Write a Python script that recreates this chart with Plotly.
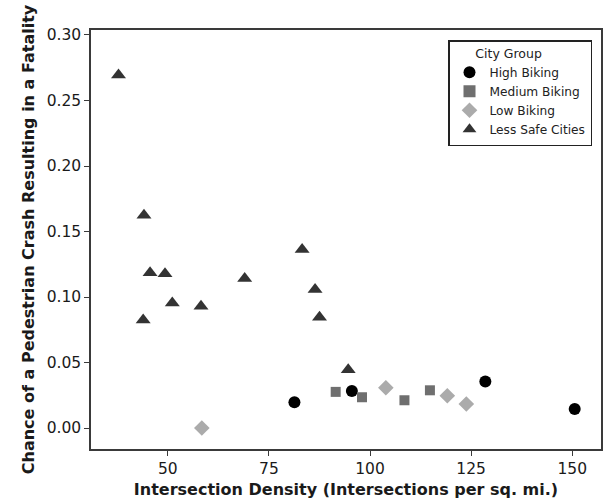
import plotly.graph_objects as go

high_x = [81.3, 95.5, 128.5, 150.6]
high_y = [0.0197, 0.0283, 0.0356, 0.0145]
med_x = [91.5, 98.0, 108.5, 114.8]
med_y = [0.0276, 0.0235, 0.0212, 0.0288]
low_x = [58.4, 103.9, 119.1, 123.8]
low_y = [0.0, 0.0308, 0.0246, 0.0184]
less_x = [37.8, 44.1, 45.6, 49.3, 43.9, 51.1, 58.2, 69.0, 83.2, 86.4, 87.5, 94.6]
less_y = [0.2695, 0.1625, 0.1185, 0.1178, 0.0825, 0.0955, 0.093, 0.1142, 0.1362, 0.1057, 0.0845, 0.0445]

xticks = [50, 75, 100, 125, 150]
yticks = [0.00, 0.05, 0.10, 0.15, 0.20, 0.25, 0.30]

fig = go.Figure()
fig.add_trace(go.Scatter(x=high_x, y=high_y, mode="markers", name="High Biking",
                         marker=dict(symbol="circle", size=12, color="#000000")))
fig.add_trace(go.Scatter(x=med_x, y=med_y, mode="markers", name="Medium Biking",
                         marker=dict(symbol="square", size=10, color="#6f6f6f")))
fig.add_trace(go.Scatter(x=low_x, y=low_y, mode="markers", name="Low Biking",
                         marker=dict(symbol="diamond", size=12, color="#ababab")))
fig.add_trace(go.Scatter(x=less_x, y=less_y, mode="markers", name="Less Safe Cities",
                         marker=dict(symbol="triangle-up", size=13, color="#333333")))

axis_common = dict(showgrid=False, zeroline=False, showline=True, linecolor="#3a3a3a",
                   linewidth=1.5, mirror=True, ticks="outside", ticklen=5, tickwidth=1.3,
                   tickcolor="#3a3a3a",
                   tickfont=dict(family="DejaVu Sans", size=15.5, color="#1a1a1a"))

fig.update_layout(
    width=609, height=503,
    margin=dict(l=91, r=6, t=30, b=54),
    paper_bgcolor="white", plot_bgcolor="white",
    xaxis=dict(range=[31.0, 157.1], tickvals=xticks, ticktext=[str(v) for v in xticks],
               title=dict(text="<b>Intersection Density (Intersections per sq. mi.)</b>",
                          font=dict(family="DejaVu Sans", size=16, color="#1a1a1a"), standoff=6),
               **axis_common),
    yaxis=dict(range=[-0.016, 0.3038], tickvals=yticks, ticktext=[f"{v:.2f}" for v in yticks],
               title=dict(text="<b>Chance of a Pedestrian Crash Resulting in a Fatality</b>",
                          font=dict(family="DejaVu Sans", size=16, color="#1a1a1a"), standoff=8),
               **axis_common),
    legend=dict(x=0.70, y=0.976, xanchor="left", yanchor="top",
                bgcolor="white", bordercolor="#222222", borderwidth=1.5,
                font=dict(family="DejaVu Sans", size=12.2, color="#222222"),
                title=dict(text="      City Group", font=dict(family="DejaVu Sans", size=12.5, color="#222222")),
                itemsizing="constant", itemwidth=30, tracegroupgap=0),
    showlegend=True,
)

fig.write_html("out.html")
